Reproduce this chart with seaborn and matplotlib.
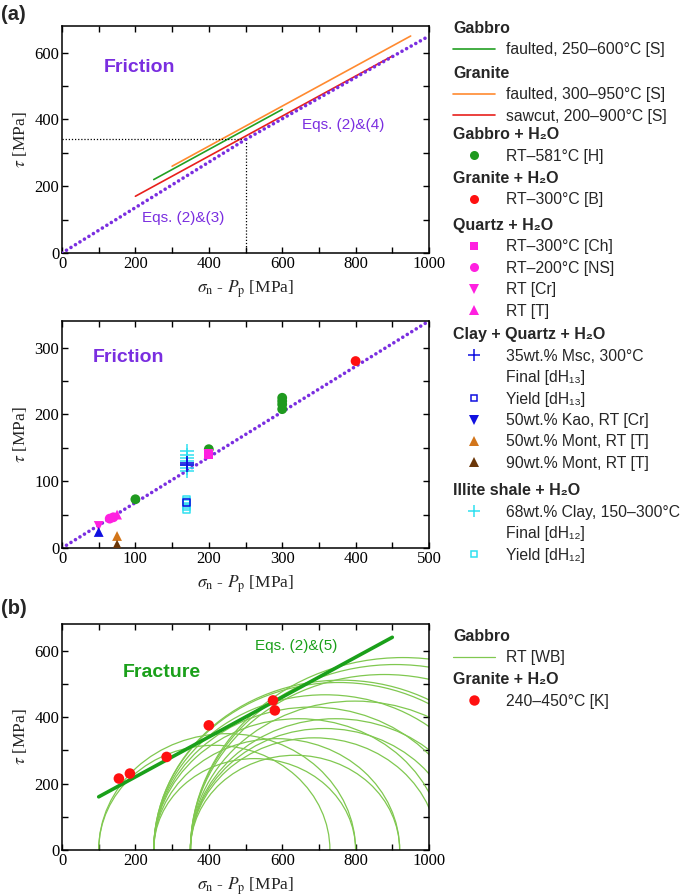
import numpy as np
import pandas as pd
import matplotlib
matplotlib.use("Agg")
import matplotlib.pyplot as plt
import seaborn as sns
from matplotlib.lines import Line2D
from matplotlib.patches import Arc
from matplotlib.ticker import MultipleLocator

# ---------------- data ----------------
# (a) top panel : friction lines
gab_fault_x = [250, 600]
gab_fault_y = [220, 430]
gran_fault_x = [300, 950]
gran_fault_y = [260, 650]
gran_saw_x = [200, 900]
gran_saw_y = [170, 590]
eq_x = [0, 500, 1000]
eq_y = [0, 340, 650]
trans_x = 500
trans_y = 340

# (a) middle panel : friction data points
gabH2O_x = [100, 200, 300, 300, 300, 300]
gabH2O_y = [73, 148, 208, 215, 220, 225]
granH2O_x = [400]
granH2O_y = [280]
qz_ch_x = [200]
qz_ch_y = [141]
qz_ns_x = [65, 70]
qz_ns_y = [44, 46]
qz_cr_x = [50]
qz_cr_y = [33]
qz_t_x = [75]
qz_t_y = [50]
msc_final_x = [170, 170]
msc_final_y = [124, 128]
msc_yield_x = [170]
msc_yield_y = [68]
kao_x = [50]
kao_y = [24]
mont50_x = [75]
mont50_y = [18]
mont90_x = [75]
mont90_y = [5]
ill_final_x = [170, 170, 170, 170, 170, 170, 170]
ill_final_y = [115, 120, 125, 130, 135, 140, 145]
ill_yield_x = [170, 170, 170, 170, 170]
ill_yield_y = [58, 62, 66, 70, 72]
eq2_x = [0, 500]
eq2_y = [0, 340]

# (b) bottom panel : fracture
frac_x = [155, 185, 285, 400, 575, 580]
frac_y = [215, 230, 280, 375, 450, 420]
env_x = [100, 900]
env_y = [160, 640]
mohr_s3 = [100, 100, 250, 250, 350, 250, 350, 350, 250, 250, 250, 250, 350, 350, 350, 350, 350]
mohr_s1 = [730, 800, 800, 920, 920, 1040, 1025, 1081, 1110, 1184, 1258, 1272, 1140, 1246, 1406, 1466, 1508]

# ---------------- style ----------------
sns.set_theme(style="ticks")
plt.rcParams.update({
    "font.family": ["Liberation Serif", "DejaVu Serif"],
    "mathtext.fontset": "stix",
    "font.size": 12,
    "axes.linewidth": 1.1,
    "xtick.direction": "in",
    "ytick.direction": "in",
    "xtick.top": True,
    "ytick.right": True,
    "xtick.major.size": 4.5,
    "ytick.major.size": 4.5,
    "xtick.minor.size": 4.0,
    "ytick.minor.size": 4.0,
    "xtick.major.width": 1.0,
    "ytick.major.width": 1.0,
    "xtick.minor.width": 1.0,
    "ytick.minor.width": 1.0,
    "xtick.color": "black",
    "ytick.color": "black",
    "axes.edgecolor": "black",
    "xtick.labelsize": 12,
    "ytick.labelsize": 12,
    "axes.labelsize": 12.5,
    "xtick.major.pad": 2.5,
    "ytick.major.pad": 2,
})

PURPLE = "#7a2ee0"
GREEN = "#22a022"
ORANGE = "#ff8a30"
RED = "#e8201c"
DOTRED = "#ff1010"
MAGENTA = "#ff20e0"
BLUE = "#1010e0"
CYAN = "#30e0f0"
MONT50 = "#d2751a"
MONT90 = "#6a3608"
LGREEN = "#80c850"
FGREEN = "#1aa01a"
DGREEN = "#1f9a1f"
SANS = ["Liberation Sans", "DejaVu Sans"]

W, H = 685, 896
fig = plt.figure(figsize=(W / 100, H / 100), dpi=100)


def axes_px(left, top, right, bottom):
    return fig.add_axes([left / W, 1 - bottom / H, (right - left) / W, (bottom - top) / H])


ax1 = axes_px(62, 26, 429, 253)
ax2 = axes_px(62, 321, 429, 548)
ax3 = axes_px(62, 624, 429, 850)

xlabel = r"$\sigma_{\mathrm{n}}$ - $P_{\mathrm{p}}$ [MPa]"
ylabel = r"$\tau$ [MPa]"

dot_style = dict(linestyle=(0, (0.01, 1.45)), dash_capstyle="round", lw=2.6, color=PURPLE)

# ---- panel 1 ----
sns.lineplot(x=gab_fault_x, y=gab_fault_y, ax=ax1, color=GREEN, lw=1.2, estimator=None, sort=False)
sns.lineplot(x=gran_fault_x, y=gran_fault_y, ax=ax1, color=ORANGE, lw=1.2, estimator=None, sort=False)
sns.lineplot(x=gran_saw_x, y=gran_saw_y, ax=ax1, color=RED, lw=1.2, estimator=None, sort=False)
ax1.plot([0, trans_x], [trans_y, trans_y], color="black", lw=0.9, ls=(0, (1, 1.5)))
ax1.plot([trans_x, trans_x], [0, trans_y], color="black", lw=0.9, ls=(0, (1, 1.5)))
sns.lineplot(x=eq_x, y=eq_y, ax=ax1, estimator=None, sort=False, zorder=4, **dot_style)
ax1.set_xlim(0, 1000)
ax1.set_ylim(0, 680)
ax1.xaxis.set_major_locator(MultipleLocator(200))
ax1.xaxis.set_minor_locator(MultipleLocator(100))
ax1.yaxis.set_major_locator(MultipleLocator(200))
ax1.yaxis.set_minor_locator(MultipleLocator(100))
ax1.text(115, 555, "Friction", color=PURPLE, fontsize=14, fontweight="bold", family=SANS, va="center")
ax1.text(217, 105, "Eqs. (2)&(3)", color=PURPLE, fontsize=11, family=SANS, va="center")
ax1.text(655, 384, "Eqs. (2)&(4)", color=PURPLE, fontsize=11, family=SANS, va="center")

# ---- panel 2 ----
sns.lineplot(x=eq2_x, y=eq2_y, ax=ax2, estimator=None, sort=False, zorder=2, **dot_style)


def scat(ax, x, y, marker, color, s, open_=False, lw=1.2, z=3):
    if open_:
        sns.scatterplot(x=x, y=y, ax=ax, marker=marker, s=s, color=color, facecolor="none",
                        edgecolor=color, linewidth=lw, zorder=z, legend=False)
    elif marker == "+":
        sns.scatterplot(x=x, y=y, ax=ax, marker=marker, s=s, color=color, linewidth=lw,
                        zorder=z, legend=False)
    else:
        sns.scatterplot(x=x, y=y, ax=ax, marker=marker, s=s, color=color, edgecolor="none",
                        linewidth=0, zorder=z, legend=False)


scat(ax2, ill_final_x, ill_final_y, "+", CYAN, 90, lw=1.1)
scat(ax2, ill_yield_x, ill_yield_y, "s", CYAN, 28, open_=True, lw=1.1)
scat(ax2, gabH2O_x, gabH2O_y, "o", DGREEN, 50)
scat(ax2, granH2O_x, granH2O_y, "o", DOTRED, 50)
scat(ax2, qz_ch_x, qz_ch_y, "s", MAGENTA, 45)
scat(ax2, qz_ns_x, qz_ns_y, "o", MAGENTA, 50)
scat(ax2, qz_cr_x, qz_cr_y, "v", MAGENTA, 50)
scat(ax2, qz_t_x, qz_t_y, "^", MAGENTA, 50)
scat(ax2, kao_x, kao_y, "^", BLUE, 50)
scat(ax2, mont50_x, mont50_y, "^", MONT50, 50)
scat(ax2, mont90_x, mont90_y, "^", MONT90, 50)
scat(ax2, msc_final_x, msc_final_y, "+", BLUE, 90, lw=1.2, z=4)
scat(ax2, msc_yield_x, msc_yield_y, "s", BLUE, 28, open_=True, lw=1.1, z=4)
ax2.set_xlim(0, 500)
ax2.set_ylim(0, 340)
ax2.xaxis.set_major_locator(MultipleLocator(100))
ax2.xaxis.set_minor_locator(MultipleLocator(50))
ax2.yaxis.set_major_locator(MultipleLocator(100))
ax2.yaxis.set_minor_locator(MultipleLocator(50))
ax2.text(42, 285, "Friction", color=PURPLE, fontsize=14, fontweight="bold", family=SANS, va="center")

# ---- panel 3 ----
for s3, s1 in zip(mohr_s3, mohr_s1):
    c = (s3 + s1) / 2
    d = s1 - s3
    ax3.add_patch(Arc((c, 0), d, d, theta1=0, theta2=180, color=LGREEN, lw=0.9, zorder=2))
sns.lineplot(x=env_x, y=env_y, ax=ax3, color=FGREEN, lw=2.6, estimator=None, sort=False, zorder=3)
scat(ax3, frac_x, frac_y, "o", DOTRED, 58, z=4)
ax3.set_xlim(0, 1000)
ax3.set_ylim(0, 680)
ax3.xaxis.set_major_locator(MultipleLocator(200))
ax3.xaxis.set_minor_locator(MultipleLocator(100))
ax3.yaxis.set_major_locator(MultipleLocator(200))
ax3.yaxis.set_minor_locator(MultipleLocator(100))
ax3.text(166, 534, "Fracture", color=FGREEN, fontsize=14, fontweight="bold", family=SANS, va="center")
ax3.text(526, 613, "Eqs. (2)&(5)", color=FGREEN, fontsize=11, family=SANS, va="center")

for ax in (ax1, ax2, ax3):
    ax.set_xlabel(xlabel, labelpad=4)
    ax.set_ylabel(ylabel, labelpad=4)
    ax.tick_params(which="both", top=True, right=True)
    for sp in ax.spines.values():
        sp.set_visible(True)

fig.text(1 / W, 1 - 14 / H, "(a)", fontsize=14.5, fontweight="bold", family=SANS, va="center", ha="left")
fig.text(1 / W, 1 - 609 / H, "(b)", fontsize=14.5, fontweight="bold", family=SANS, va="center", ha="left")

# ---------------- legends ----------------
def lh(color, lw=1.2):
    return Line2D([], [], color=color, lw=lw)


def mh(marker, color, ms=6.5, open_=False, mew=1.1):
    if open_:
        return Line2D([], [], ls="none", marker=marker, markersize=ms, markerfacecolor="none",
                      markeredgecolor=color, markeredgewidth=mew)
    if marker == "+":
        return Line2D([], [], ls="none", marker=marker, markersize=ms, color=color, markeredgewidth=mew)
    return Line2D([], [], ls="none", marker=marker, markersize=ms, color=color, markeredgewidth=0)


blank = Line2D([], [], ls="none")

groups = [
    ("Gabbro", 26.7, [(lh(GREEN), "faulted, 250–600°C [S]")]),
    ("Granite", 71.7, [(lh(ORANGE), "faulted, 300–950°C [S]"), (lh(RED), "sawcut, 200–900°C [S]")]),
    ("Gabbro + H₂O", 133.3, [(mh("o", DGREEN), "RT–581°C [H]")]),
    ("Granite + H₂O", 176.7, [(mh("o", DOTRED), "RT–300°C [B]")]),
    ("Quartz + H₂O", 224, [(mh("s", MAGENTA, 5.5), "RT–300°C [Ch]"), (mh("o", MAGENTA), "RT–200°C [NS]"),
                            (mh("v", MAGENTA), "RT [Cr]"), (mh("^", MAGENTA), "RT [T]")]),
    ("Clay + Quartz + H₂O", 333.3, [(mh("+", BLUE, 9), "35wt.% Msc, 300°C"), (blank, "Final [dH₁₃]"),
                                   (mh("s", BLUE, 5, open_=True), "Yield [dH₁₃]"),
                                   (mh("v", BLUE), "50wt.% Kao, RT [Cr]"), (mh("^", MONT50), "50wt.% Mont, RT [T]"),
                                   (mh("^", MONT90), "90wt.% Mont, RT [T]")]),
    ("Illite shale + H₂O", 489.3, [(mh("+", CYAN, 9), "68wt.% Clay, 150–300°C"), (blank, "Final [dH₁₂]"),
                                  (mh("s", CYAN, 5, open_=True), "Yield [dH₁₂]")]),
    ("Gabbro", 635, [(lh(LGREEN, 0.9), "RT [WB]")]),
    ("Granite + H₂O", 678.3, [(mh("o", DOTRED, 7.5), "240–450°C [K]")]),
]

for title, yc, entries in groups:
    handles = [e[0] for e in entries]
    labels = [e[1] for e in entries]
    leg = fig.legend(handles, labels, title=title, loc="upper left",
                     bbox_to_anchor=(453 / W, 1 - (yc - 6.0) / H), bbox_transform=fig.transFigure,
                     frameon=False, borderpad=0, borderaxespad=0, handlelength=2.7, handletextpad=0.7,
                     labelspacing=0.41, alignment="left",
                     prop={"family": SANS, "size": 11.3},
                     title_fontproperties={"family": SANS, "size": 11.5, "weight": "bold"})

fig.savefig("out.png", dpi=100)
